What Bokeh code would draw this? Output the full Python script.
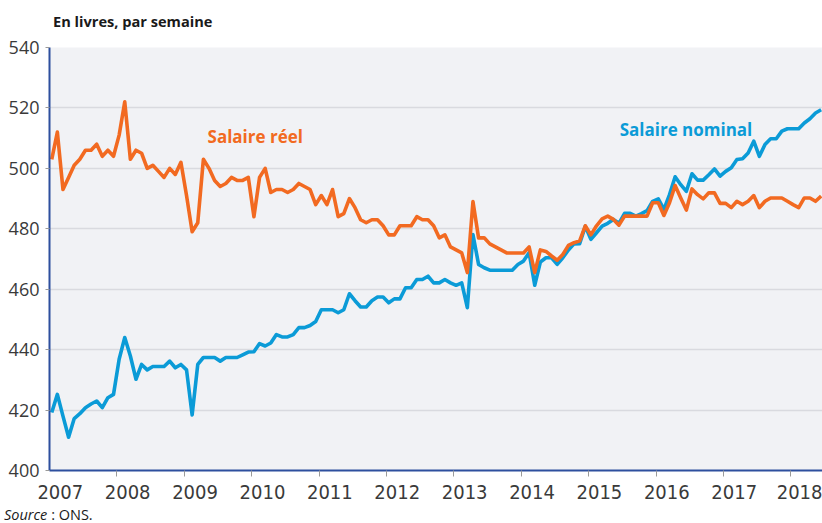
import numpy as np
from bokeh.plotting import figure
from bokeh.layouts import column
from bokeh.models import Range1d, FixedTicker, CustomJSTickFormatter, Label, ColumnDataSource, Div
from bokeh.embed import file_html
from bokeh.resources import INLINE

# Monthly series, Jan 2007 -> Jun 2018 (pounds per week)
reel = [503, 512, 493, 497, 501, 503, 506, 506, 508, 504, 506, 504,
        511, 522, 503, 506, 505, 500, 501, 499, 497, 500, 498, 502,
        491, 479, 482, 503, 500, 496, 494, 495, 497, 496, 496, 497,
        484, 497, 500, 492, 493, 493, 492, 493, 495, 494, 493, 488,
        491, 488, 493, 484, 485, 490, 487, 483, 482, 483, 483, 481,
        478, 478, 481, 481, 481, 484, 483, 483, 481, 477, 478, 474,
        473, 472, 465.5, 489, 477, 477, 475, 474, 473, 472, 472, 472,
        472, 474, 465.5, 473, 472.5, 471, 469.6, 471.5, 474.5, 475.4, 476, 481,
        478, 481, 483.3, 484.2, 483.1, 481.2, 484.2, 484.2, 484.2, 484.2, 484.2, 488.6,
        488.6, 484.4, 488.6, 494.3, 490.2, 486.2, 493.2, 491.3, 489.9, 491.9, 491.9, 488.4,
        488.4, 487, 489.1, 488, 489.1, 491, 487, 489.1, 490.2, 490.2, 490.2, 489.1,
        488, 487, 490.2, 490.2, 489.1, 490.8]

nominal = [419.2, 425.2, 418, 411, 417.2, 418.8, 420.8, 422, 423, 420.8, 424.1, 425.2,
           436.8, 444, 437.9, 430.2, 435.1, 433.3, 434.4, 434.4, 434.4, 436.2, 434, 435.1,
           433.3, 418.4, 435.1, 437.4, 437.4, 437.4, 436.2, 437.4, 437.4, 437.4, 438.3, 439.2,
           439.3, 442, 441.2, 442.2, 445, 444.2, 444.2, 445, 447.3, 447.3, 448, 449.3,
           453.2, 453.2, 453.2, 452.2, 453.2, 458.5, 456.2, 454.1, 454.1, 456.2, 457.4, 457.4,
           455.5, 456.8, 456.8, 460.5, 460.5, 463.2, 463.2, 464.3, 462.1, 462.1, 463.2, 462.1,
           461.3, 462.1, 453.9, 478.1, 468.2, 467.1, 466.3, 466.3, 466.3, 466.3, 466.3, 468.2,
           469.3, 472.1, 461.3, 469, 470.4, 470.4, 468.2, 470.4, 473, 475, 475.1, 480.8,
           476.5, 478.7, 480.9, 481.8, 483.1, 481.8, 485.1, 485.1, 484.2, 485, 486, 489.1,
           489.9, 486.4, 491.3, 497.2, 494.6, 492.4, 498.2, 496.1, 496.1, 497.9, 499.8, 497.4,
           499, 500.2, 502.9, 503.2, 505.1, 509, 504, 507.9, 509.8, 509.8, 512.3, 513.1,
           513.1, 513.1, 515, 516.4, 518.3, 519.4]

years = list(range(2007, 2019))
y_ticks = [400, 420, 440, 460, 480, 500, 520, 540]

n = len(reel)
t = 2007 + (np.arange(n) + 0.4) / 12.0
src = ColumnDataSource(dict(t=t, reel=reel, nominal=nominal))

ORANGE = "#f26a21"
BLUE = "#0b9bd7"
AXIS_BLUE = "#2d4f9e"
NARROW = "'Liberation Sans Narrow', 'DejaVu Sans Condensed', 'Open Sans', sans-serif"

title_note = Div(text="En livres, par semaine", width=822, height=32, margin=0,
                 styles={"font-family": "Open Sans", "font-size": "14.6px",
                         "font-weight": "bold", "color": "#1a1a1a",
                         "padding-left": "53px", "line-height": "16px",
                         "position": "relative", "top": "13px"})

p = figure(width=822, height=473, output_backend="svg", toolbar_location=None,
           title=None,
           x_range=Range1d(2007, 2018.47), y_range=Range1d(400, 540),
           min_border_left=49, min_border_right=0, min_border_top=15, min_border_bottom=35,
           background_fill_color="#f1f2f5", border_fill_color="white")
p.outline_line_color = None

p.line("t", "nominal", source=src, line_color=BLUE, line_width=3.6, line_join="round")
p.line("t", "reel", source=src, line_color=ORANGE, line_width=3.6, line_join="round")

# axes
p.yaxis.ticker = FixedTicker(ticks=y_ticks)
p.yaxis.axis_line_color = AXIS_BLUE
p.yaxis.axis_line_width = 2
p.yaxis.major_tick_line_color = "#9a9a9a"
p.yaxis.major_tick_out = 4
p.yaxis.major_tick_in = 0
p.yaxis.minor_tick_line_color = None
p.yaxis.major_label_text_font = "Open Sans"
p.yaxis.major_label_text_font_size = "18px"
p.yaxis.major_label_text_color = "#3a3a3a"
p.yaxis.major_label_standoff = 6

p.xaxis.ticker = FixedTicker(ticks=[y + 0.16 for y in years], minor_ticks=years[1:])
p.xaxis.formatter = CustomJSTickFormatter(code="return Math.floor(tick).toString();")
p.xaxis.axis_line_color = AXIS_BLUE
p.xaxis.axis_line_width = 2
p.xaxis.major_tick_line_color = None
p.xaxis.minor_tick_line_color = "#9a9a9a"
p.xaxis.minor_tick_out = 6
p.xaxis.minor_tick_in = 0
p.xaxis.major_label_text_font = NARROW
p.xaxis.major_label_text_font_size = "20px"
p.xaxis.major_label_text_color = "#3a3a3a"
p.xaxis.major_label_standoff = 8

p.xgrid.grid_line_color = None
p.ygrid.grid_line_color = "#d9dadf"
p.ygrid.grid_line_width = 1.5

# series labels
p.add_layout(Label(x=2009.345, y=510.5, text="Salaire réel", text_font="Open Sans",
                   text_font_style="bold", text_font_size="17px", text_color=ORANGE,
                   text_baseline="middle"))
p.add_layout(Label(x=2015.46, y=512.8, text="Salaire nominal", text_font="Open Sans",
                   text_font_style="bold", text_font_size="17px", text_color=BLUE,
                   text_baseline="middle"))

source_note = Div(text="<i>Source</i> : ONS.", width=822, height=18, margin=0,
                  styles={"font-family": "Open Sans", "font-size": "14.5px",
                          "color": "#1a1a1a", "padding-left": "4px",
                          "padding-top": "2px", "line-height": "15px"})

layout = column(title_note, p, source_note, spacing=0)

open("out.html", "w").write(file_html(layout, INLINE))
